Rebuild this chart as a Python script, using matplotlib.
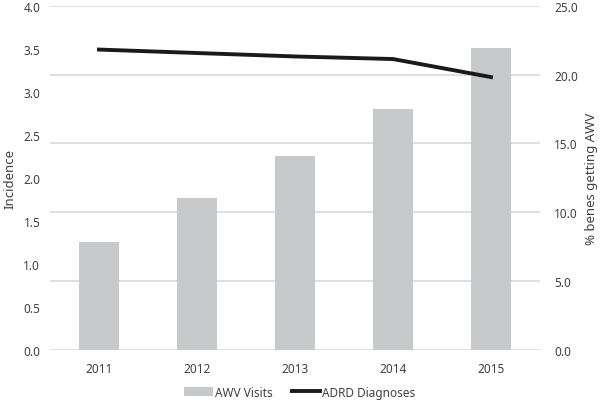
import matplotlib.pyplot as plt
import numpy as np

years = ['2011', '2012', '2013', '2014', '2015']
awv_visits = [7.8, 11.0, 14.1, 17.5, 21.9]        # % benes getting AWV (right axis)
adrd_diagnoses = [3.49, 3.45, 3.41, 3.38, 3.17]   # incidence (left axis)

plt.rcParams['font.family'] = ['Noto Sans', 'DejaVu Sans']
txt = '#404040'

fig = plt.figure(figsize=(6, 4.06), dpi=100)
ax = fig.add_axes([0.0833, 0.136, 0.8167, 0.8475])
ax2 = ax.twinx()

x = np.arange(len(years))
ax2.bar(x, awv_visits, width=0.4, color='#c8c9cb', label='AWV Visits', zorder=2)
ax.plot(x, adrd_diagnoses, color='#1a1a1a', lw=2.8, label='ADRD Diagnoses', zorder=3)

ax.set_zorder(ax2.get_zorder() + 1)
ax.patch.set_visible(False)

ax.set_xlim(-0.5, 4.5)
ax.set_ylim(0, 4)
ax.set_yticks(np.arange(0, 4.01, 0.5))
ax.set_yticklabels([f'{v:.1f}' for v in np.arange(0, 4.01, 0.5)])
ax2.set_ylim(0, 25)
ax2.set_yticks(np.arange(0, 25.1, 5))
ax2.set_yticklabels([f'{v:.1f}' for v in np.arange(0, 25.1, 5)])
ax.set_xticks(x)
ax.set_xticklabels(years)

for a in (ax, ax2):
    for s in a.spines.values():
        s.set_visible(False)
    a.tick_params(length=0, labelsize=8.5, labelcolor=txt)
ax.tick_params(axis='y', pad=7)
ax2.tick_params(axis='y', pad=10)
ax.tick_params(axis='x', pad=9)

ax2.yaxis.grid(True, color='#d9d9d9', lw=1.2, zorder=0)
ax2.set_axisbelow(True)

ax.set_ylabel('Incidence', fontsize=9.5, color=txt)
ax.yaxis.set_label_coords(-0.068, 0.5)
ax2.set_ylabel('% benes getting AWV', fontsize=9.5, color=txt)
ax2.yaxis.set_label_coords(1.092, 0.5)

h1, l1 = ax2.get_legend_handles_labels()
h2, l2 = ax.get_legend_handles_labels()
fig.legend(h1 + h2, l1 + l2, loc='center', bbox_to_anchor=(0.5, 0.032), ncol=2,
           frameon=False, fontsize=8.5, labelcolor=txt, handlelength=2.4,
           handleheight=0.8, columnspacing=1.6, handletextpad=0.2)

plt.savefig('out.png', dpi=100)
